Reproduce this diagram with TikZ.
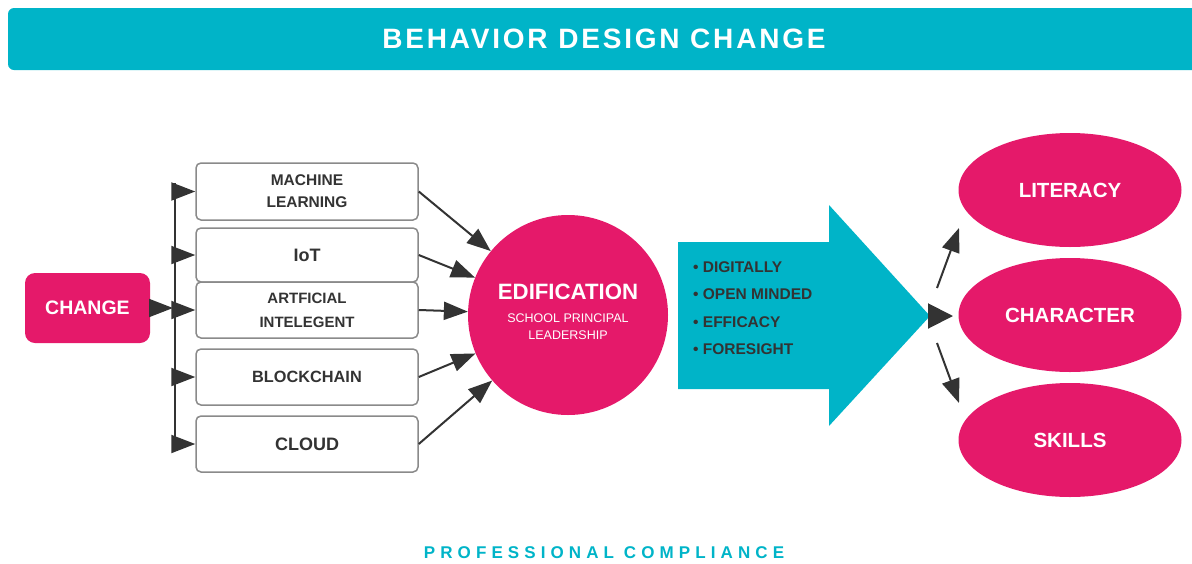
\documentclass[tikz,border=0pt]{standalone}
\usepackage{fontspec}
\setmainfont{Liberation Sans}
\newfontfamily\titlefont[LetterSpace=10]{Liberation Sans}
\newfontfamily\footfont[LetterSpace=30]{Liberation Sans}
\usetikzlibrary{arrows.meta,shapes.geometric}

\definecolor{bdTeal}{HTML}{00B4C8}
\definecolor{bdPink}{HTML}{E5196A}
\definecolor{bdDark}{HTML}{333333}
\definecolor{bdGray}{HTML}{8A8A8A}

\tikzset{
  arr/.style={draw=bdDark, line width=2pt, -{Triangle[length=24pt,width=18pt]}},
  bigarr/.style={draw=bdDark, line width=2pt, -{Triangle[length=25pt,width=25pt]}},
  techbox/.style={draw=bdGray, line width=1.5pt, rounded corners=5pt, fill=white,
    minimum width=222pt, text=bdDark, align=center, inner sep=0pt},
  pinkell/.style={ellipse, fill=bdPink, minimum width=223pt, minimum height=114pt,
    inner sep=0pt, text=white, font=\bfseries\fontsize{20.5}{24}\selectfont},
  bullet/.style={anchor=base west, text=bdDark, inner sep=0pt,
    font=\bfseries\fontsize{15.5}{18}\selectfont},
}

\begin{document}
\begin{tikzpicture}[x=1pt,y=-1pt]
\useasboundingbox (0,0) rectangle (1192,563);

% title banner (runs off the right edge)
\node[fill=bdTeal, rounded corners=6pt, minimum width=1192pt, minimum height=62pt,
      inner sep=0pt, text=white, font=\titlefont\bfseries\fontsize{28}{30}\selectfont]
  (title) at (604,39) {BEHAVIOR DESIGN CHANGE};

% source box
\node[fill=bdPink, rounded corners=10pt, minimum width=125pt, minimum height=70pt,
      inner sep=0pt, text=white, font=\bfseries\fontsize{19.5}{22}\selectfont]
  (change) at (87.5,308) {CHANGE};

% technology boxes
\node[techbox, minimum height=57pt, font=\bfseries\fontsize{15.5}{22}\selectfont]
  (ml) at (307,191.5) {MACHINE\\LEARNING};
\node[techbox, minimum height=54pt, font=\bfseries\fontsize{18}{20}\selectfont]
  (iot) at (307,255) {IoT};
\node[techbox, minimum height=56pt, font=\bfseries\fontsize{15}{24}\selectfont]
  (ai) at (307,310) {ARTFICIAL\\INTELEGENT};
\node[techbox, minimum height=56pt, font=\bfseries\fontsize{16.3}{20}\selectfont]
  (bc) at (307,377) {BLOCKCHAIN};
\node[techbox, minimum height=56pt, font=\bfseries\fontsize{18}{20}\selectfont]
  (cl) at (307,444) {CLOUD};

% distribution bar
\coordinate (vt) at (175,183);
\coordinate (vb) at (175,443);
\coordinate (vm) at (173,308);
\draw[draw=bdDark, line width=2pt] (vt) -- (vb);
\draw[arr] (change.east) -- (vm);
\foreach \b in {ml,iot,ai,bc,cl}
  \draw[arr] (vm |- \b.west) -- (\b.west);

% central circle
\node[circle, fill=bdPink, minimum size=200pt, inner sep=0pt] (edu) at (568,315) {};
\node[text=white, inner sep=0pt, font=\bfseries\fontsize{22.2}{26}\selectfont]
  (edutitle) at (568,292) {EDIFICATION};
\node[text=white, inner sep=0pt, align=center, font=\fontsize{12.5}{17}\selectfont]
  (edusub) at (568,327) {SCHOOL PRINCIPAL\\LEADERSHIP};

\foreach \b in {ml,iot,ai,bc,cl}
  \draw[arr] (\b.east) -- (edu);

% big arrow with qualities
\fill[bdTeal] (678,242) -- (829,242) -- (829,205) -- (930,316) -- (829,426)
  -- (829,389) -- (678,389) -- cycle;
\coordinate (tip) at (928,316);
\node[bullet] (q1) at (693,272.5) {• DIGITALLY};
\node[bullet] (q2) at (693,299.8) {• OPEN MINDED};
\node[bullet] (q3) at (693,327.1) {• EFFICACY};
\node[bullet] (q4) at (693,354.4) {• FORESIGHT};

% outcomes
\node[pinkell] (lit) at (1070,190) {LITERACY};
\node[pinkell] (char) at (1070,315) {CHARACTER};
\node[pinkell] (sk) at (1070,440) {SKILLS};

\coordinate (u1) at (937,288);
\coordinate (u2) at (959,228);
\coordinate (d1) at (937,343);
\coordinate (d2) at (959,403);
\coordinate (c2) at (953,316);
\draw[bigarr] (tip) -- (c2);
\draw[arr] (u1) -- (u2);
\draw[arr] (d1) -- (d2);

% footer
\node[text=bdTeal, inner sep=0pt, font=\footfont\bfseries\fontsize{17}{20}\selectfont]
  (foot) at (604,553) {PROFESSIONAL COMPLIANCE};
\end{tikzpicture}
\end{document}
